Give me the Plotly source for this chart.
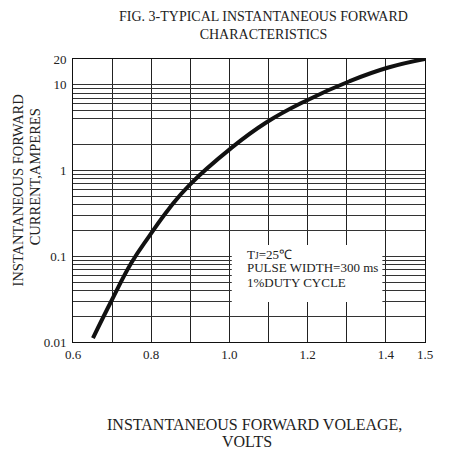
import plotly.graph_objects as go
import math

# Data
voltage = [0.651, 0.70, 0.749, 0.795, 0.846, 0.897, 1.002, 1.094, 1.196, 1.307, 1.404, 1.50]
current = [0.0111, 0.0313, 0.0834, 0.172, 0.361, 0.673, 1.79, 3.63, 6.53, 11.0, 15.8, 20.0]

x_tickvals = [0.6, 0.7, 0.8, 0.9, 1.0, 1.1, 1.2, 1.3, 1.4, 1.5]
x_ticktext = ["0.6", "", "0.8", "", "1.0", "", "1.2", "", "1.4", "1.5"]

y_tickvals = [0.01, 0.02, 0.03, 0.04, 0.05, 0.06, 0.07, 0.08, 0.09,
              0.1, 0.2, 0.3, 0.4, 0.5, 0.6, 0.7, 0.8, 0.9,
              1, 2, 4, 5, 6, 7, 8, 9, 10, 20]
y_labels = {0.01: "0.01", 0.1: "0.1", 1: "1", 10: "10", 20: "20"}
y_ticktext = [y_labels.get(v, "") for v in y_tickvals]

title_text = "FIG. 3-TYPICAL INSTANTANEOUS FORWARD<br>CHARACTERISTICS"
x_title_lines = ["INSTANTANEOUS FORWARD VOLEAGE,", "VOLTS"]
y_title_lines = ["INSTANTANEOUS FORWARD", "CURRENT,AMPERES"]
note_lines = ["T<span style='font-size:9.5px'>J</span>=25\u2103", "PULSE WIDTH=300 ms", "1%DUTY CYCLE"]

SERIF = "Liberation Serif, Times New Roman, serif"
TXT = "#222222"

fig = go.Figure()
fig.add_trace(go.Scatter(
    x=voltage, y=current, mode="lines",
    line=dict(color="#111111", width=4, shape="spline", smoothing=1.3),
    hoverinfo="skip", showlegend=False,
))

# page body has an 8px margin: shift the figure accordingly
fig.update_layout(
    width=437, height=443,
    margin=dict(l=65, r=17, t=51, b=109),
    paper_bgcolor="white", plot_bgcolor="white",
    font=dict(family=SERIF, color=TXT, size=13),
    showlegend=False,
)

fig.update_xaxes(
    range=[0.6, 1.5], tickvals=x_tickvals, ticktext=x_ticktext,
    showgrid=True, gridcolor="#222222", gridwidth=1,
    showline=True, linecolor="#111111", linewidth=1, mirror=True,
    ticks="", zeroline=False, ticklabelstandoff=0,
    tickfont=dict(family=SERIF, size=13, color=TXT),
)
fig.update_yaxes(
    type="log", range=[math.log10(0.01), math.log10(20)],
    tickvals=y_tickvals, ticktext=y_ticktext,
    showgrid=True, gridcolor="#333333", gridwidth=1,
    showline=True, linecolor="#111111", linewidth=1, mirror=True,
    ticks="", zeroline=False, ticklabelstandoff=3,
    tickfont=dict(family=SERIF, size=13, color=TXT),
)

# white box behind the test-condition note
fig.add_shape(type="rect", xref="x", yref="y",
              x0=1.006, x1=1.391, y0=0.0293, y1=0.1353,
              fillcolor="white", line=dict(width=0), layer="above")
for txt, yv in zip(note_lines, [0.1035, 0.073, 0.0501]):
    fig.add_annotation(
        text=txt, xref="x", yref="y", x=1.041, y=math.log10(yv),
        xanchor="left", yanchor="middle", showarrow=False, align="left",
        font=dict(family=SERIF, size=13, color=TXT),
    )

fig.add_annotation(
    text=title_text, xref="paper", yref="paper",
    x=0.541, y=1.118, xanchor="center", yanchor="middle",
    showarrow=False, align="center",
    font=dict(family=SERIF, size=14, color=TXT),
)

fig.add_annotation(
    text=x_title_lines[0], xref="paper", yref="paper",
    x=0.515, y=-0.293, xanchor="center", yanchor="middle",
    showarrow=False, font=dict(family=SERIF, size=16, color=TXT),
)
fig.add_annotation(
    text=x_title_lines[1], xref="paper", yref="paper",
    x=0.494, y=-0.350, xanchor="center", yanchor="middle",
    showarrow=False, font=dict(family=SERIF, size=16, color=TXT),
)
fig.add_annotation(
    text=y_title_lines[0], xref="paper", yref="paper",
    x=-0.155, y=0.537, xanchor="center", yanchor="middle",
    showarrow=False, textangle=-90,
    font=dict(family=SERIF, size=14.5, color=TXT),
)
fig.add_annotation(
    text=y_title_lines[1], xref="paper", yref="paper",
    x=-0.107, y=0.583, xanchor="center", yanchor="middle",
    showarrow=False, textangle=-90,
    font=dict(family=SERIF, size=14.5, color=TXT),
)

fig.write_html("out.html")
